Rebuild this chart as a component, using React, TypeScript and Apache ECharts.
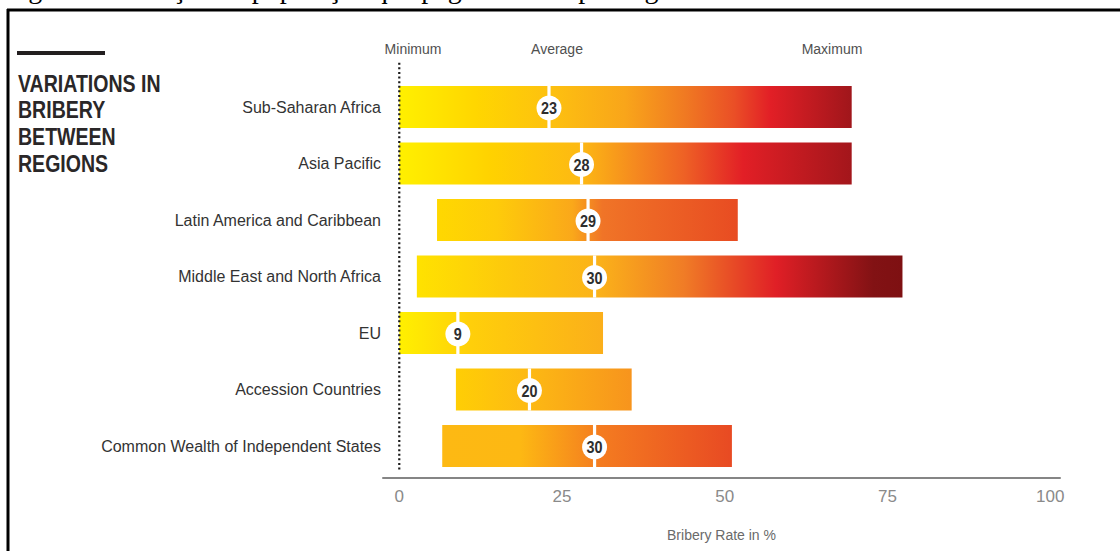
import React, { useEffect, useRef } from "react";
import * as echarts from "echarts";

// Regions, top to bottom
const regions = [
  "Sub-Saharan Africa",
  "Asia Pacific",
  "Latin America and Caribbean",
  "Middle East and North Africa",
  "EU",
  "Accession Countries",
  "Common Wealth of Independent States",
];

// Bribery rate (%) per region: lowest country, highest country, regional average
const minRates = [0, 0, 5.8, 2.7, 0, 8.7, 6.6];
const maxRates = [69.5, 69.5, 52.0, 77.3, 31.3, 35.7, 51.1];
const avgRates = [23, 28, 29, 30, 9, 20, 30];

// Value-axis labels
const xTicks = [0, 25, 50, 75, 100];

// Column headers above the bars
const headers = ["Minimum", "Average", "Maximum"];

const titleLines = ["VARIATIONS IN", "BRIBERY", "BETWEEN", "REGIONS"];
const caption = "Figura 3: Variação da população que paga suborno por região";

// Per-bar heat gradients (yellow -> orange -> red)
const barGradients: [number, string][][] = [
  [[0, "#FFF000"], [0.17, "#FFD600"], [0.34, "#FDC010"], [0.5, "#F9A51A"], [0.63, "#F07A22"], [0.74, "#EA4F26"], [0.82, "#E21F26"], [1, "#A0161B"]],
  [[0, "#FFF000"], [0.2, "#FFD200"], [0.4, "#FDB913"], [0.52, "#F58A1F"], [0.63, "#EE6125"], [0.76, "#E21F26"], [1, "#A3161B"]],
  [[0, "#FFD800"], [0.2, "#FECB0A"], [0.45, "#FAA81A"], [0.55, "#F07427"], [1, "#E84C22"]],
  [[0, "#FFE200"], [0.2, "#FDC70D"], [0.37, "#FBB319"], [0.55, "#F07C26"], [0.74, "#E01F26"], [0.94, "#821214"], [1, "#7E1012"]],
  [[0, "#FFF000"], [0.35, "#FFCF0A"], [1, "#FBAF1A"]],
  [[0, "#FFCE05"], [0.4, "#FDBA13"], [1, "#F7941D"]],
  [[0, "#FDB913"], [0.27, "#FDB813"], [0.55, "#F47B20"], [1, "#E84A23"]],
];

const BAR_RATIO = 0.745;
const SANS = "'Liberation Sans', Arial, sans-serif";

export default function App() {
  const ref = useRef<HTMLDivElement>(null);

  useEffect(() => {
    if (!ref.current) return;
    const chart = echarts.init(ref.current, null, { renderer: "svg" });

    const barData = regions.map((r, i) => [minRates[i], maxRates[i], r]);
    const avgData = regions.map((r, i) => [avgRates[i], r]);

    const option: any = {
      animation: false,
      backgroundColor: "#ffffff",
      grid: {
        left: 383,
        right: 60,
        top: 78.75,
        bottom: 76.75,
        containLabel: false,
        outerBoundsMode: "none",
      },
      xAxis: {
        type: "value",
        min: -2.5,
        max: 101.5,
        offset: 3,
        axisLine: { show: true, lineStyle: { color: "#858585", width: 2 } },
        axisTick: { show: false },
        splitLine: { show: false },
        axisLabel: {
          customValues: xTicks,
          color: "#8a8a8a",
          fontSize: 17,
          fontFamily: SANS,
          margin: 11,
        },
        name: "Bribery Rate in %",
        nameLocation: "middle",
        nameGap: 51,
        nameTextStyle: { color: "#6a6a6a", fontSize: 14, fontFamily: SANS },
      },
      yAxis: {
        type: "category",
        data: regions,
        inverse: true,
        axisLine: { show: false },
        axisTick: { show: false },
        splitLine: { show: false },
        axisLabel: {
          color: "#333333",
          fontSize: 16,
          fontFamily: SANS,
          margin: 2,
        },
      },
      series: [
        {
          type: "custom",
          name: "range",
          encode: { x: [0, 1], y: 2 },
          data: barData,
          z: 2,
          renderItem: (params: any, api: any) => {
            const cat = api.value(2);
            const a = api.coord([api.value(0), cat]);
            const b = api.coord([api.value(1), cat]);
            const h = api.size([0, 1])[1] * BAR_RATIO;
            const stops = barGradients[params.dataIndex].map(([offset, color]) => ({ offset, color }));
            return {
              type: "rect",
              shape: { x: a[0], y: a[1] - h / 2, width: b[0] - a[0], height: h },
              style: {
                fill: { type: "linear", x: 0, y: 0, x2: 1, y2: 0, colorStops: stops, global: false },
              },
            };
          },
        },
        {
          type: "custom",
          name: "minimum",
          encode: { x: 0, y: 1 },
          data: [[0, regions[0]]],
          z: 3,
          renderItem: (params: any, api: any) => {
            const p = api.coord([0, 0]);
            const cs = params.coordSys;
            return {
              type: "line",
              shape: { x1: p[0], y1: cs.y - 16, x2: p[0], y2: cs.y + cs.height - 4 },
              style: { stroke: "#1a1a1a", lineWidth: 2.2, lineDash: [2, 2.6] },
            };
          },
        },
        {
          type: "custom",
          name: "average",
          encode: { x: 0, y: 1 },
          data: avgData,
          z: 4,
          renderItem: (params: any, api: any) => {
            const v = api.value(0);
            const p = api.coord([v, api.value(1)]);
            const h = api.size([0, 1])[1] * BAR_RATIO;
            return {
              type: "group",
              children: [
                {
                  type: "rect",
                  shape: { x: p[0] - 1.6, y: p[1] - h / 2, width: 3.2, height: h },
                  style: { fill: "#ffffff" },
                },
                {
                  type: "circle",
                  shape: { cx: p[0], cy: p[1] + 1, r: 12.5 },
                  style: { fill: "#ffffff" },
                },
                {
                  type: "text",
                  x: p[0],
                  y: p[1] + 1.5,
                  scaleX: 0.9,
                  style: {
                    text: String(v),
                    align: "center",
                    verticalAlign: "middle",
                    textAlign: "center",
                    textVerticalAlign: "middle",
                    fill: "#2e2e2e",
                    font: `bold 16px ${SANS}`,
                  },
                },
              ],
            };
          },
        },
      ],
      graphic: [
        // frame
        { type: "line", shape: { x1: 7, y1: 10, x2: 1120, y2: 10 }, style: { stroke: "#000", lineWidth: 3 } },
        { type: "line", shape: { x1: 8, y1: 9, x2: 8, y2: 551 }, style: { stroke: "#000", lineWidth: 3 } },
        // caption running above the frame
        {
          type: "text",
          x: 5,
          y: 2.5,
          style: {
            text: caption,
            font: "28px 'Liberation Serif', 'Times New Roman', serif",
            fill: "#000",
            verticalAlign: "bottom",
            textVerticalAlign: "bottom",
          },
        },
        // title rule
        { type: "rect", shape: { x: 17, y: 51, width: 88, height: 4 }, style: { fill: "#231f20" } },
        ...titleLines.map((t, i) => ({
          type: "text",
          x: 18,
          y: 84 + i * 26.7,
          scaleX: 0.85,
          style: {
            text: t,
            font: `bold 23px ${SANS}`,
            fill: "#2a2728",
            verticalAlign: "middle",
            textVerticalAlign: "middle",
          },
        })),
        ...headers.map((t, i) => ({
          type: "text",
          x: [413, 557, 832][i],
          y: 49,
          style: {
            text: t,
            font: `14px ${SANS}`,
            fill: "#505050",
            align: "center",
            textAlign: "center",
            verticalAlign: "middle",
            textVerticalAlign: "middle",
          },
        })),
      ],
    };

    chart.setOption(option);
    return () => chart.dispose();
  }, []);

  return (
    <div
      ref={ref}
      style={{ position: "absolute", left: 0, top: 0, width: 1120, height: 551 }}
    />
  );
}
